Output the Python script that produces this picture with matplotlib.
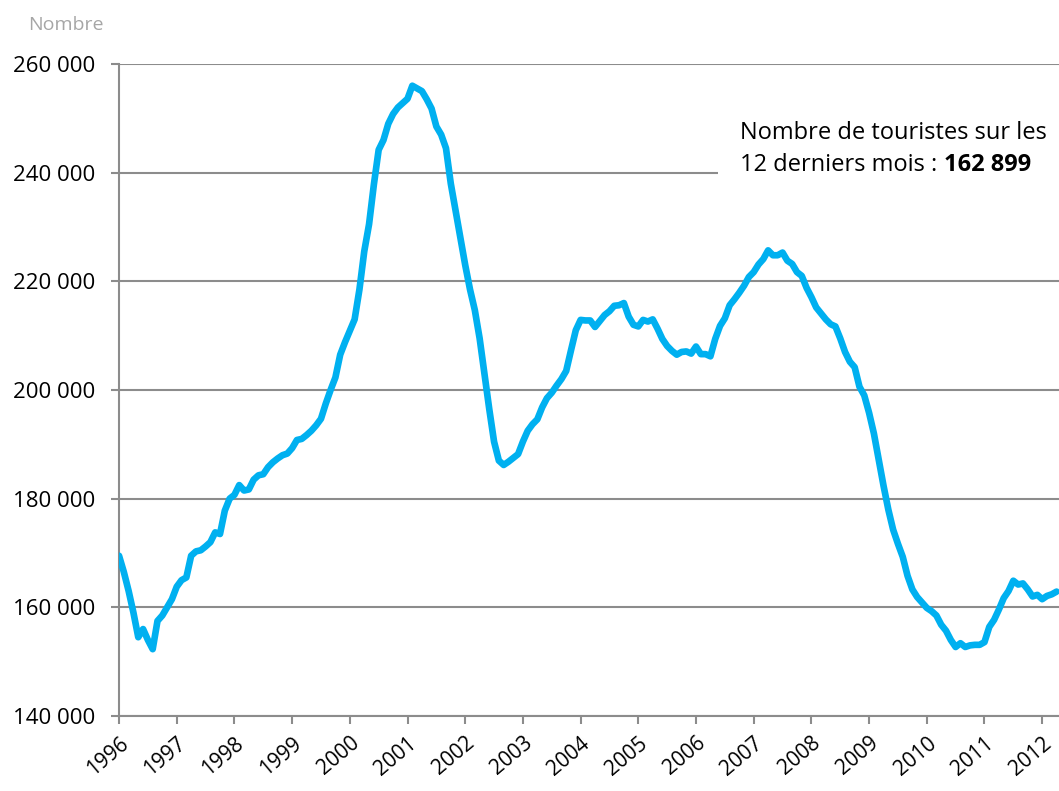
import numpy as np
import matplotlib.pyplot as plt
from matplotlib.patches import Rectangle

# Nombre de touristes sur 12 mois glissants, mensuel, janvier 1996 -> avril 2012
touristes = [
    169500, 166500, 163000, 159000, 154500, 156000, 154000, 152300, 157500, 158500,
    160000, 161500, 163800, 165000, 165500, 169500, 170300, 170500, 171200, 172000,
    173800, 173500, 177800, 180000, 180700, 182500, 181500, 181700, 183500, 184300,
    184500, 185800, 186700, 187400, 188000, 188300, 189300, 190800, 191000, 191700,
    192500, 193500, 194700, 197500, 200000, 202300, 206500, 208800, 210900, 213000,
    218500, 225500, 230500, 237800, 244200, 246000, 249000, 250800, 252000, 252800,
    253600, 256000, 255500, 255000, 253500, 251800, 248500, 247000, 244500, 238000,
    233000, 228000, 223000, 218500, 214700, 209500, 203000, 196500, 190500, 187000,
    186200, 186800, 187500, 188200, 190500, 192500, 193700, 194600, 196800, 198500,
    199500, 200800, 202000, 203500, 207300, 211000, 212900, 212800, 212800, 211600,
    212700, 213800, 214500, 215500, 215600, 216000, 213500, 212000, 211700, 212900,
    212600, 213000, 211300, 209400, 208100, 207200, 206500, 207000, 207100, 206700,
    208000, 206600, 206600, 206200, 209400, 211800, 213200, 215600, 216700, 217900,
    219200, 220800, 221700, 223100, 224100, 225700, 224800, 224800, 225300, 223800,
    223200, 221700, 221000, 218800, 217100, 215200, 214100, 213000, 212100, 211700,
    209500, 207000, 205200, 204200, 200600, 199000, 195800, 192000, 187200, 182400,
    178000, 174300, 171700, 169300, 165800, 163300, 161900, 160900, 159900, 159300,
    158500, 156800, 155700, 154000, 152700, 153400, 152700, 153000, 153100, 153100,
    153600, 156400, 157700, 159600, 161700, 163000, 164900, 164200, 164400, 163300,
    162000, 162300, 161500, 162100, 162400, 162899,
]
annees = [str(a) for a in range(1996, 2013)]
y_ticks = [140000, 160000, 180000, 200000, 220000, 240000, 260000]
dernier = '162 899'

plt.rcParams['font.family'] = ['Open Sans', 'DejaVu Sans']

fig = plt.figure(figsize=(10.59, 7.91), dpi=100)
ax = fig.add_axes([0.1124, 0.0948, 0.8876, 0.8243])

mois = np.arange(len(touristes))
ax.plot(mois, touristes, color='#00B0F0', linewidth=4.8, solid_joinstyle='round',
        solid_capstyle='round', zorder=3)

grey = '#8c8c8c'
ax.set_ylim(140000, 260000)
ax.set_xlim(0, 195.5)
ax.set_yticks(y_ticks)
ax.set_yticklabels([f'{v:,}'.replace(',', ' ') for v in y_ticks], fontsize=16)
ax.yaxis.grid(True, color=grey, linewidth=1.5, zorder=1)
ax.set_axisbelow(True)

ax.set_xticks(np.arange(0, 12 * len(annees), 12))
ax.set_xticklabels(annees, fontsize=15, rotation=40, ha='right',
                   rotation_mode='anchor')

for s in ['top', 'right']:
    ax.spines[s].set_visible(False)
for s in ['left', 'bottom']:
    ax.spines[s].set_color(grey)
    ax.spines[s].set_linewidth(1.5)
ax.tick_params(axis='both', color=grey, width=1.5, length=6)
ax.tick_params(axis='x', pad=6)
ax.tick_params(axis='y', pad=11)

fig.text(0.027, 0.962, 'Nombre', fontsize=14, color='#a6a6a6')

# encadré blanc qui masque la grille
ax.add_patch(Rectangle((0.637, 0.80), 0.363, 0.15, transform=ax.transAxes,
                       facecolor='white', edgecolor='none', zorder=2))
ax.text(0.661, 0.885, 'Nombre de touristes sur les', transform=ax.transAxes,
        fontsize=17, va='baseline', zorder=4)
t2 = ax.text(0.661, 0.836, '12 derniers mois : ', transform=ax.transAxes,
             fontsize=17, va='baseline', zorder=4)
ax.annotate(dernier, xy=(1, 0), xycoords=t2, ha='left', va='bottom',
            fontsize=17, fontweight='bold', zorder=5)

fig.savefig('out.png', dpi=100)
